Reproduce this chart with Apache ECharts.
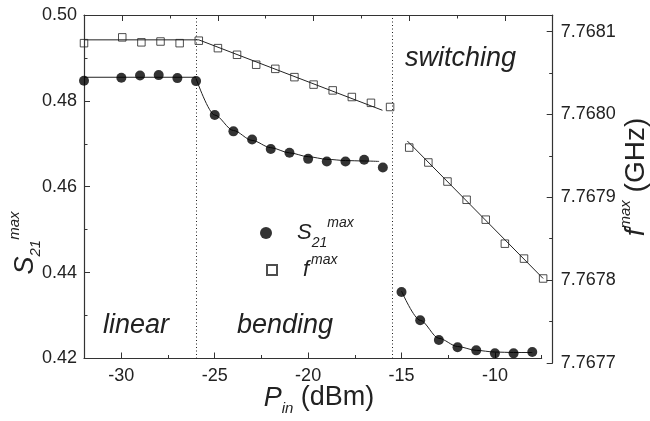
<!DOCTYPE html>
<html>
<head>
<meta charset="utf-8">
<script src="https://cdn.jsdelivr.net/npm/echarts@6/dist/echarts.min.js"></script>
<style>html,body{margin:0;padding:0;background:#fff}#c{width:650px;height:421px}</style>
</head>
<body>
<div id="c"></div>
<script>
// ---- data ----
const pin = [-32,-30,-29,-28,-27,-26,-25,-24,-23,-22,-21,-20,-19,-18,-17,-16,-15,-14,-13,-12,-11,-10,-9,-8];
const s21Max = [0.4847,0.4854,0.4859,0.4860,0.4853,0.4846,0.4767,0.4729,0.4710,0.4688,0.4679,0.4665,0.4659,0.4659,0.4663,0.4645,0.4355,0.4289,0.4243,0.4226,0.4219,0.4212,0.4212,0.4215];
const fMax = [7.768086,7.768093,7.768087,7.768088,7.768086,7.768089,7.768080,7.768072,7.768060,7.768055,7.768045,7.768036,7.768029,7.768021,7.768014,7.768009,7.767960,7.767942,7.767919,7.767897,7.767873,7.767844,7.767826,7.767802];
// fit curves
const s21FitLinear = [[-32,0.4855],[-26,0.4855]];
const s21FitBending = [[-26,0.4852],[-25,0.4767],[-24,0.4731],[-23,0.4708],[-22,0.4691],[-21,0.4679],[-20,0.4670],[-19,0.4664],[-18,0.4661],[-17,0.4660],[-16.2,0.4659]];
const s21FitSwitching = [[-15,0.4357],[-14,0.4289],[-13,0.4247],[-12,0.4228],[-11,0.4219],[-10,0.4215],[-9,0.4214],[-8,0.4214]];
const fFitLinear = [[-32,7.76809],[-26,7.76809]];
const fFitBending = [[-26,7.76809],[-16.4,7.768005]];
const fFitSwitching = [[-15.1,7.767968],[-8,7.767802]];
const regionBounds = [-26,-15.5];
const xMajorTicks = [-30,-25,-20,-15,-10];
const xMinorTicks = [-27.5,-22.5,-17.5,-12.5,-7.5];
const fMajorTicks = [7.7677,7.7678,7.7679,7.7680,7.7681];
const fMinorTicks = [7.76775,7.76785,7.76795,7.76805];
const regionLabels = ['linear','bending','switching'];

const FONT = '"Liberation Sans", Arial, Helvetica, sans-serif';
const INK = '#222';
const zip = (xs, ys) => xs.map((x,i)=>[x, ys[i]]);

const chart = echarts.init(document.getElementById('c'), null, {renderer:'canvas'});

const xBase = {type:'value', min:-32, max:-7.5, splitLine:{show:false}};
function fitLine(data, xi, yi, smooth){
  return {type:'line', data, xAxisIndex:xi, yAxisIndex:yi, showSymbol:false, symbol:'none',
    smooth: smooth ? 0.3 : false, smoothMonotone: 'x', silent:true, z:2,
    lineStyle:{color:INK, width:1}};
}

const option = {
  animation:false,
  grid:[
    {left:84, right:108.4, top:15, bottom:62.5},
    {left:84, right:97.3, top:15, bottom:58}
  ],
  xAxis:[
    Object.assign({}, xBase, {gridIndex:0, position:'bottom',
      axisLine:{show:true, lineStyle:{color:'#333', width:1.2}},
      axisTick:{show:true, inside:true, length:6, customValues:xMajorTicks, lineStyle:{color:'#333'}},
      axisLabel:{show:true, customValues:xMajorTicks, fontSize:18, fontFamily:FONT, color:INK, margin:9}}),
    Object.assign({}, xBase, {gridIndex:0, position:'bottom',
      axisLine:{show:false},
      axisTick:{show:true, inside:true, length:3.5, customValues:xMinorTicks, lineStyle:{color:'#333'}},
      axisLabel:{show:false}}),
    Object.assign({}, xBase, {gridIndex:1, position:'top',
      axisLine:{show:true, lineStyle:{color:'#333', width:1.2}},
      axisTick:{show:true, inside:true, length:6, customValues:xMajorTicks, lineStyle:{color:'#333'}},
      axisLabel:{show:false}}),
    Object.assign({}, xBase, {gridIndex:1, position:'top',
      axisLine:{show:false},
      axisTick:{show:true, inside:true, length:3.5, customValues:xMinorTicks, lineStyle:{color:'#333'}},
      axisLabel:{show:false}})
  ],
  yAxis:[
    {type:'value', gridIndex:0, position:'left', min:0.42, max:0.50, interval:0.02,
      splitLine:{show:false},
      axisLine:{show:true, lineStyle:{color:'#333', width:1.2}},
      axisTick:{show:true, inside:true, length:6, lineStyle:{color:'#333'}},
      minorTick:{show:true, splitNumber:2, length:3.5, lineStyle:{color:'#333'}},
      axisLabel:{fontSize:18, fontFamily:FONT, color:INK, margin:7, formatter:v=>v.toFixed(2)}},
    {type:'value', gridIndex:1, position:'right', min:7.7677, max:7.76812,
      splitLine:{show:false},
      axisLine:{show:true, lineStyle:{color:'#333', width:1.2}},
      axisTick:{show:true, inside:true, length:6, customValues:fMajorTicks, lineStyle:{color:'#333'}},
      axisLabel:{customValues:fMajorTicks, fontSize:18, fontFamily:FONT, color:INK, margin:8, formatter:v=>v.toFixed(4)}},
    {type:'value', gridIndex:1, position:'right', min:7.7677, max:7.76812,
      splitLine:{show:false}, axisLine:{show:false},
      axisTick:{show:true, inside:true, length:3.5, customValues:fMinorTicks, lineStyle:{color:'#333'}},
      axisLabel:{show:false}}
  ],
  legend:[
    {data:[{name:'S21', icon:'circle'}], orient:'vertical', left:260, top:216, padding:0,
      itemWidth:12, itemHeight:12, selectedMode:false,
      formatter:()=> '{s|S}{sub|21}{sup|max}',
      textStyle:{color:INK, fontFamily:FONT, rich:{
        s:{fontSize:22, fontStyle:'italic', lineHeight:34, padding:[0,0,0,20], fontFamily:FONT, color:INK},
        sub:{fontSize:14, fontStyle:'italic', lineHeight:10, verticalAlign:'bottom', fontFamily:FONT, color:INK},
        sup:{fontSize:14, fontStyle:'italic', lineHeight:20, verticalAlign:'top', fontFamily:FONT, color:INK}}}},
    {data:[{name:'f', icon:'rect'}], orient:'vertical', left:266, top:253, padding:0,
      itemWidth:10, itemHeight:10, selectedMode:false,
      formatter:()=> '{f|f}{sup|max}',
      textStyle:{color:INK, fontFamily:FONT, rich:{
        f:{fontSize:22, fontStyle:'italic', lineHeight:34, padding:[0,2,0,21], fontFamily:FONT, color:INK},
        sup:{fontSize:14, fontStyle:'italic', lineHeight:20, verticalAlign:'top', fontFamily:FONT, color:INK}}}}
  ],
  series:[
    fitLine(s21FitLinear,0,0,false),
    fitLine(s21FitBending,0,0,true),
    fitLine(s21FitSwitching,0,0,true),
    fitLine(fFitLinear,2,1,false),
    fitLine(fFitBending,2,1,false),
    fitLine(fFitSwitching,2,1,false),
    {name:'S21', type:'scatter', xAxisIndex:0, yAxisIndex:0, data:zip(pin,s21Max),
      symbol:'circle', symbolSize:10, itemStyle:{color:'#000'}, z:4,
      markLine:{silent:true, symbol:['none','none'], label:{show:false},
        lineStyle:{type:[1,2.5], color:'#222', width:1},
        data:regionBounds.map(v=>({xAxis:v}))}},
    {name:'f', type:'scatter', xAxisIndex:2, yAxisIndex:1, data:zip(pin,fMax),
      symbol:'rect', symbolSize:7.5, z:4,
      itemStyle:{color:'rgba(255,255,255,0)', borderColor:'#222', borderWidth:1}}
  ],
  graphic:[
    {type:'text', x:103, y:325, style:{text:regionLabels[0], font:'italic 27px '+FONT, fill:INK, textVerticalAlign:'middle'}},
    {type:'text', x:237, y:325, style:{text:regionLabels[1], font:'italic 27px '+FONT, fill:INK, textVerticalAlign:'middle'}},
    {type:'text', x:405, y:58, style:{text:regionLabels[2], font:'italic 27px '+FONT, fill:INK, textVerticalAlign:'middle'}},
    // bottom axis title
    {type:'text', x:319, y:398, style:{text:'{p|P}{sub|in}{t| (dBm)}', align:'center', verticalAlign:'middle',
      rich:{p:{font:'italic 27px '+FONT, fill:INK, lineHeight:36},
            sub:{font:'italic 15px '+FONT, fill:INK, lineHeight:12, verticalAlign:'bottom'},
            t:{font:'27px '+FONT, fill:INK, lineHeight:36}}}},
    // left axis title
    {type:'text', x:25, y:243, rotation:Math.PI/2, style:{text:'{s|S}{sub|21}{sup|max}', align:'center', verticalAlign:'middle',
      rich:{s:{font:'italic 27px '+FONT, fill:INK, lineHeight:36},
            sub:{font:'italic 15px '+FONT, fill:INK, lineHeight:12, verticalAlign:'bottom'},
            sup:{font:'italic 15px '+FONT, fill:INK, lineHeight:20, verticalAlign:'top'}}}},
    // right axis title
    {type:'text', x:636, y:177, rotation:Math.PI/2, style:{text:'{f|f}{sup|max}{t| (GHz)}', align:'center', verticalAlign:'middle',
      rich:{f:{font:'italic 28px '+FONT, fill:INK, lineHeight:36},
            sup:{font:'italic 15px '+FONT, fill:INK, lineHeight:18, verticalAlign:'top'},
            t:{font:'28px '+FONT, fill:INK, lineHeight:36}}}}
  ]
};
chart.setOption(option);
</script>
</body>
</html>
